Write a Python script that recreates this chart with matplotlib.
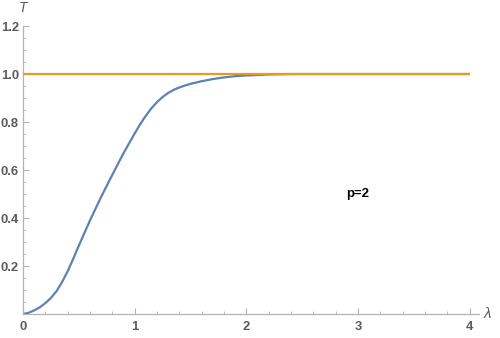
import matplotlib.pyplot as plt
from matplotlib.ticker import MultipleLocator, FixedLocator

# values (p=2)
lam = [0.0, 0.05, 0.1, 0.15, 0.2, 0.25, 0.3, 0.35, 0.4, 0.45, 0.5, 0.6,
       0.7, 0.8, 0.9, 1.0, 1.05, 1.1, 1.15, 1.2, 1.25, 1.3, 1.35, 1.4, 1.45,
       1.5, 1.6, 1.7, 1.8, 1.9, 2.0, 2.2, 2.4, 3.0, 4.0]
T = [0.0, 0.005, 0.015, 0.028, 0.045, 0.067, 0.095, 0.133, 0.178, 0.23,
     0.285, 0.39, 0.488, 0.58, 0.67, 0.752, 0.791, 0.826, 0.857, 0.883,
     0.904, 0.921, 0.934, 0.944, 0.952, 0.959, 0.970, 0.979, 0.986, 0.991,
     0.994, 0.998, 1.0, 1.0, 1.0]
ref_x = [0.0, 4.0]
ref_T = [1.0, 1.0]

x_ticks = [0, 1, 2, 3, 4]
y_ticks = [0.2, 0.4, 0.6, 0.8, 1.0, 1.2]

blue = '#5E81B5'
orange = '#E19C24'
gray = '#5a5a5a'
axis_gray = '#B3B3B3'

plt.rcParams['font.family'] = ['Liberation Sans', 'DejaVu Sans']

fig = plt.figure(figsize=(5, 3.38), dpi=100)
ax = fig.add_axes([0.046, 0.071, 0.911, 0.852])

ax.plot(lam, T, color=blue, lw=1.6, solid_capstyle='butt', zorder=2)
ax.plot(ref_x, ref_T, color=orange, lw=1.6, solid_capstyle='butt', zorder=3)

ax.set_xlim(0, 4.08)
ax.set_ylim(0, 1.2)

for s in ['top', 'right']:
    ax.spines[s].set_visible(False)
for s in ['left', 'bottom']:
    ax.spines[s].set_color(axis_gray)
    ax.spines[s].set_linewidth(0.9)

ax.xaxis.set_major_locator(FixedLocator(x_ticks))
ax.xaxis.set_minor_locator(MultipleLocator(0.2))
ax.yaxis.set_major_locator(FixedLocator(y_ticks))
ax.yaxis.set_minor_locator(MultipleLocator(0.05))
ax.set_xticklabels([str(v) for v in x_ticks])
ax.set_yticklabels(['%.1f' % v for v in y_ticks])

ax.tick_params(which='major', direction='in', length=4, width=0.8,
               color=axis_gray, labelcolor=gray, labelsize=9.4)
ax.tick_params(axis='x', which='major', pad=5)
ax.tick_params(axis='y', which='major', pad=3)
ax.tick_params(which='minor', direction='in', length=2.5, width=0.6,
               color=axis_gray)
for lbl in ax.get_xticklabels() + ax.get_yticklabels():
    lbl.set_fontweight('bold')

ax.text(1.012, 0.0, 'λ', transform=ax.transAxes, color=gray,
        fontsize=11, style='italic', ha='left', va='center')
ax.text(0.0, 1.062, 'T', transform=ax.transAxes, color=gray,
        fontsize=10, style='italic', ha='center', va='center')
ax.text(3.0, 0.5, 'p=2', fontsize=9.5, fontweight='bold', color='black',
        ha='center', va='center')

fig.savefig('out.png', dpi=100)
